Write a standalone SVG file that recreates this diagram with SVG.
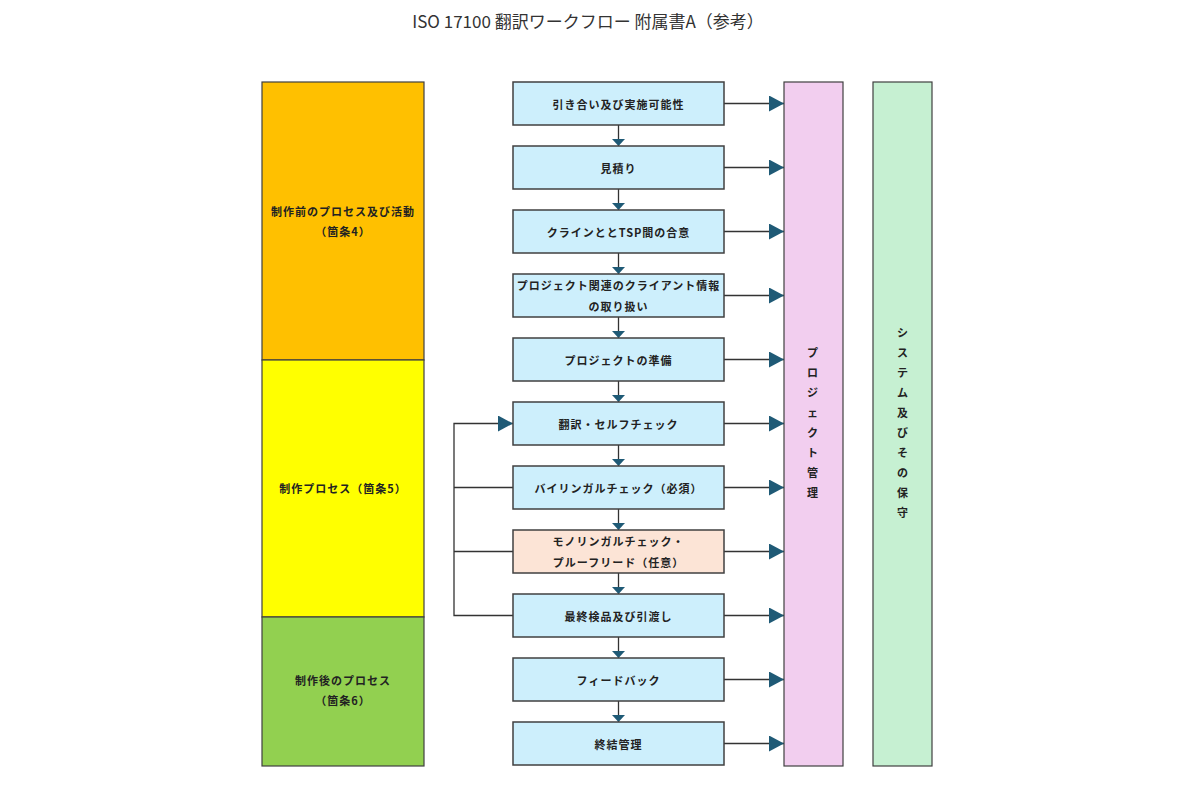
<svg xmlns="http://www.w3.org/2000/svg" width="1200" height="800" viewBox="0 0 1200 800">
<style>
.title{font-family:"Noto Sans CJK JP","Noto Sans",sans-serif;font-size:17px;fill:#333;text-anchor:middle}
.t{font-family:"Noto Sans CJK JP",sans-serif;font-size:11px;font-weight:bold;fill:#222;text-anchor:middle;dominant-baseline:central;letter-spacing:1px}
.box{fill:#CDEFFC;stroke:#404040;stroke-width:1.5}
.opt{fill:#FCE4D6;stroke:#404040;stroke-width:1.5}
.col{stroke:#404040;stroke-width:1.2}
.c{stroke:#333;stroke-width:1.3;fill:none}
</style>
<defs>
<marker id="big" markerUnits="userSpaceOnUse" markerWidth="15" markerHeight="16" refX="15" refY="8" orient="auto"><path d="M0,0 L15,8 L0,16 z" fill="#1F5A76"/></marker>
<marker id="small" markerUnits="userSpaceOnUse" markerWidth="7" markerHeight="13" refX="7" refY="6.5" orient="auto"><path d="M0,0 L7,6.5 L0,13 z" fill="#1F5A76"/></marker>
</defs>
<rect width="1200" height="800" fill="#fff"/>
<text class="title" x="588" y="28">ISO 17100 翻訳ワークフロー 附属書A（参考）</text>

<g id="phases">
<g id="phase-pre"><rect class="col" x="262" y="82" width="162" height="278" fill="#FFC000"/>
<text class="t" x="343" y="211">制作前のプロセス及び活動</text><text class="t" x="343" y="231">（箇条4）</text></g>
<g id="phase-prod"><rect class="col" x="262" y="360" width="162" height="257" fill="#FFFF00"/>
<text class="t" x="343" y="488">制作プロセス（箇条5）</text></g>
<g id="phase-post"><rect class="col" x="262" y="617" width="162" height="149" fill="#92D050"/>
<text class="t" x="343" y="680">制作後のプロセス</text><text class="t" x="343" y="700">（箇条6）</text></g>
</g>

<g id="pm"><rect class="col" x="784" y="82" width="59" height="684" fill="#F2CEEF"/>
<text class="t" x="813" y="352">プ</text><text class="t" x="813" y="372">ロ</text><text class="t" x="813" y="392">ジ</text><text class="t" x="813" y="412">ェ</text><text class="t" x="813" y="432">ク</text><text class="t" x="813" y="452">ト</text><text class="t" x="813" y="472">管</text><text class="t" x="813" y="492">理</text></g>

<g id="sys"><rect class="col" x="873" y="82" width="59" height="684" fill="#C6F0D2"/>
<text class="t" x="903" y="332">シ</text><text class="t" x="903" y="352">ス</text><text class="t" x="903" y="372">テ</text><text class="t" x="903" y="392">ム</text><text class="t" x="903" y="412">及</text><text class="t" x="903" y="432">び</text><text class="t" x="903" y="452">そ</text><text class="t" x="903" y="472">の</text><text class="t" x="903" y="492">保</text><text class="t" x="903" y="512">守</text></g>

<g id="connectors">
<line class="c" x1="724" y1="103.5" x2="784" y2="103.5" marker-end="url(#big)"/>
<line class="c" x1="724" y1="167.5" x2="784" y2="167.5" marker-end="url(#big)"/>
<line class="c" x1="724" y1="231.5" x2="784" y2="231.5" marker-end="url(#big)"/>
<line class="c" x1="724" y1="295.5" x2="784" y2="295.5" marker-end="url(#big)"/>
<line class="c" x1="724" y1="359.5" x2="784" y2="359.5" marker-end="url(#big)"/>
<line class="c" x1="724" y1="423.5" x2="784" y2="423.5" marker-end="url(#big)"/>
<line class="c" x1="724" y1="487.5" x2="784" y2="487.5" marker-end="url(#big)"/>
<line class="c" x1="724" y1="551.5" x2="784" y2="551.5" marker-end="url(#big)"/>
<line class="c" x1="724" y1="615.5" x2="784" y2="615.5" marker-end="url(#big)"/>
<line class="c" x1="724" y1="679.5" x2="784" y2="679.5" marker-end="url(#big)"/>
<line class="c" x1="724" y1="743.5" x2="784" y2="743.5" marker-end="url(#big)"/>
<line class="c" x1="618.5" y1="125" x2="618.5" y2="146" marker-end="url(#small)"/>
<line class="c" x1="618.5" y1="189" x2="618.5" y2="210" marker-end="url(#small)"/>
<line class="c" x1="618.5" y1="253" x2="618.5" y2="274" marker-end="url(#small)"/>
<line class="c" x1="618.5" y1="317" x2="618.5" y2="338" marker-end="url(#small)"/>
<line class="c" x1="618.5" y1="381" x2="618.5" y2="402" marker-end="url(#small)"/>
<line class="c" x1="618.5" y1="445" x2="618.5" y2="466" marker-end="url(#small)"/>
<line class="c" x1="618.5" y1="509" x2="618.5" y2="530" marker-end="url(#small)"/>
<line class="c" x1="618.5" y1="573" x2="618.5" y2="594" marker-end="url(#small)"/>
<line class="c" x1="618.5" y1="637" x2="618.5" y2="658" marker-end="url(#small)"/>
<line class="c" x1="618.5" y1="701" x2="618.5" y2="722" marker-end="url(#small)"/>
<path class="c" d="M513,487.5 H454 M513,551.5 H454 M513,615.5 H454 V423.5 H513" marker-end="url(#big)"/>
</g>

<g id="n1"><rect class="box" x="513" y="82" width="211" height="43"/><text class="t" x="618.5" y="103.5">引き合い及び実施可能性</text></g>
<g id="n2"><rect class="box" x="513" y="146" width="211" height="43"/><text class="t" x="618.5" y="167.5">見積り</text></g>
<g id="n3"><rect class="box" x="513" y="210" width="211" height="43"/><text class="t" x="618.5" y="231.5">クラインととTSP間の合意</text></g>
<g id="n4"><rect class="box" x="513" y="274" width="211" height="43"/><text class="t" x="618.5" y="285">プロジェクト関連のクライアント情報</text><text class="t" x="618.5" y="306">の取り扱い</text></g>
<g id="n5"><rect class="box" x="513" y="338" width="211" height="43"/><text class="t" x="618.5" y="359.5">プロジェクトの準備</text></g>
<g id="n6"><rect class="box" x="513" y="402" width="211" height="43"/><text class="t" x="618.5" y="423.5">翻訳・セルフチェック</text></g>
<g id="n7"><rect class="box" x="513" y="466" width="211" height="43"/><text class="t" x="618.5" y="487.5">バイリンガルチェック（必須）</text></g>
<g id="n8"><rect class="opt" x="513" y="530" width="211" height="43"/><text class="t" x="618.5" y="541">モノリンガルチェック・</text><text class="t" x="618.5" y="562">プルーフリード（任意）</text></g>
<g id="n9"><rect class="box" x="513" y="594" width="211" height="43"/><text class="t" x="618.5" y="615.5">最終検品及び引渡し</text></g>
<g id="n10"><rect class="box" x="513" y="658" width="211" height="43"/><text class="t" x="618.5" y="679.5">フィードバック</text></g>
<g id="n11"><rect class="box" x="513" y="722" width="211" height="43"/><text class="t" x="618.5" y="743.5">終結管理</text></g>
</svg>
